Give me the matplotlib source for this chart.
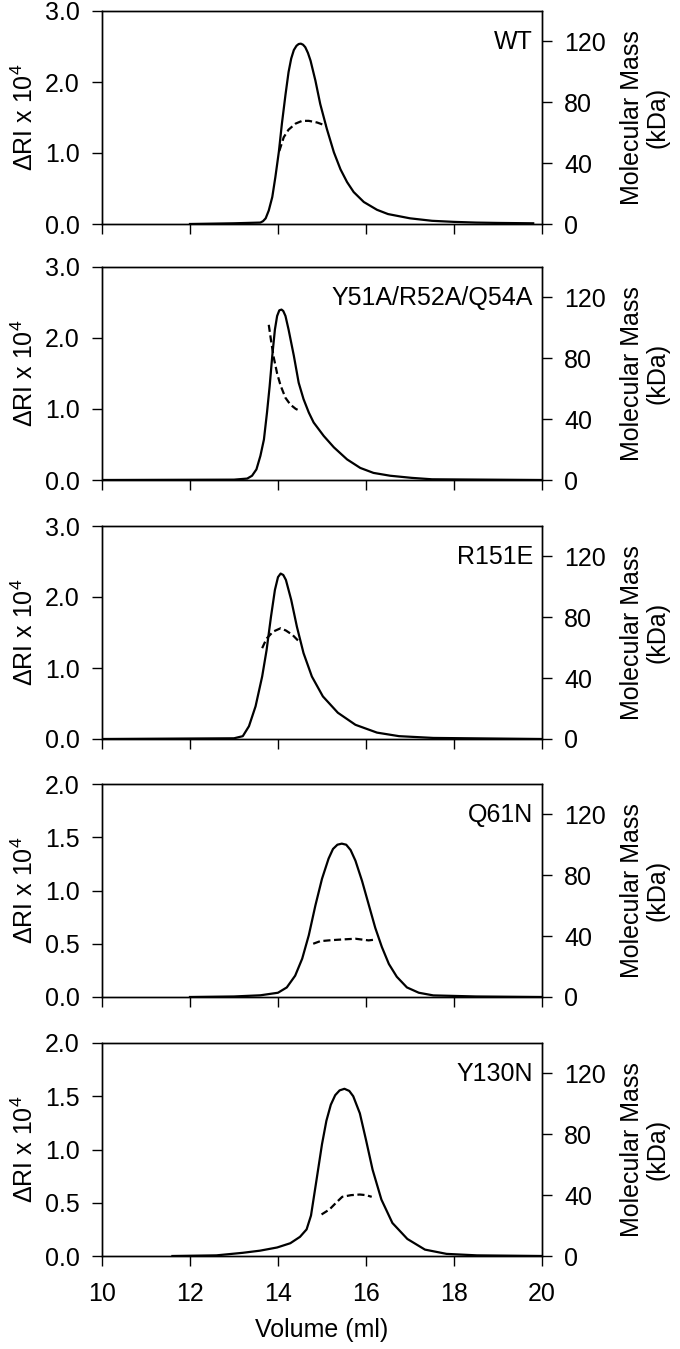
import numpy as np
import matplotlib
matplotlib.use("Agg")
import matplotlib.pyplot as plt

plt.rcParams['font.family'] = ['Liberation Sans', 'DejaVu Sans']
plt.rcParams['mathtext.default'] = 'regular'
plt.rcParams['font.size'] = 18

# Refractive index trace (x 10^4) and molar mass (kDa) vs elution volume (ml)
wt_v = [12.0, 13.0, 13.6, 13.66, 13.72, 13.79, 13.87, 13.94, 14.02, 14.09, 14.17, 14.24, 14.3,
        14.36, 14.42, 14.47, 14.52, 14.57, 14.62, 14.68, 14.74, 14.85, 14.96, 15.11, 15.27,
        15.42, 15.57, 15.72, 15.95, 16.25, 16.5, 17.0, 17.5, 18.0, 18.5, 19.0, 19.8]
wt_ri = [0.0, 0.01, 0.02, 0.04, 0.08, 0.19, 0.38, 0.66, 1.02, 1.42, 1.82, 2.14, 2.33,
         2.45, 2.51, 2.535, 2.54, 2.525, 2.49, 2.41, 2.30, 2.02, 1.69, 1.34, 1.01,
         0.77, 0.59, 0.45, 0.31, 0.20, 0.14, 0.08, 0.045, 0.03, 0.02, 0.015, 0.01]
wt_mv = [14.03, 14.13, 14.24, 14.4, 14.55, 14.7, 14.89, 15.1]
wt_mm = [48, 57, 62, 66, 67.8, 67.8, 66.7, 64.5]

mut_v = [10.0, 13.0, 13.3, 13.41, 13.51, 13.6, 13.68, 13.75, 13.81, 13.87, 13.93, 13.98, 14.03,
         14.08, 14.12, 14.17, 14.24, 14.36, 14.47, 14.58, 14.7, 14.81, 15.04, 15.27, 15.57,
         15.87, 16.17, 16.55, 17.04, 17.5, 20.0]
mut_ri = [0.0, 0.005, 0.02, 0.06, 0.15, 0.34, 0.57, 0.95, 1.32, 1.75, 2.12, 2.31, 2.39,
          2.40, 2.38, 2.31, 2.12, 1.75, 1.37, 1.14, 0.95, 0.81, 0.62, 0.46, 0.29,
          0.17, 0.10, 0.06, 0.03, 0.01, 0.0]
mut_mv = [13.79, 13.84, 13.9, 13.98, 14.06, 14.17, 14.28, 14.4, 14.51]
mut_mm = [102, 92, 81, 70, 62, 54, 49.6, 46.8, 45.2]

r151_v = [10.0, 13.0, 13.2, 13.34, 13.49, 13.64, 13.74, 13.84, 13.93, 14.0, 14.06, 14.12, 14.18,
          14.3, 14.43, 14.58, 14.77, 15.02, 15.36, 15.76, 16.25, 16.75, 17.53, 20.0]
r151_ri = [0.0, 0.01, 0.04, 0.18, 0.46, 0.88, 1.25, 1.72, 2.1, 2.28, 2.33, 2.31, 2.24,
           1.96, 1.58, 1.21, 0.88, 0.6, 0.37, 0.2, 0.09, 0.04, 0.015, 0.0]
r151_mv = [13.64, 13.74, 13.89, 14.06, 14.18, 14.33, 14.48]
r151_mm = [59.7, 66, 70.6, 72.8, 71.3, 68.4, 64]

q61_v = [12.0, 13.0, 13.6, 14.0, 14.2, 14.39, 14.55, 14.7, 14.85, 15.0, 15.15, 15.25, 15.35,
         15.45, 15.55, 15.65, 15.76, 15.91, 16.06, 16.21, 16.36, 16.52, 16.7, 16.93, 17.2,
         17.53, 18.5, 20.0]
q61_ri = [0.0, 0.005, 0.016, 0.04, 0.09, 0.2, 0.36, 0.58, 0.86, 1.11, 1.30, 1.39, 1.43,
          1.44, 1.43, 1.38, 1.28, 1.09, 0.87, 0.65, 0.47, 0.31, 0.19, 0.09, 0.04,
          0.015, 0.005, 0.0]
q61_mv = [14.8, 14.96, 15.15, 15.34, 15.57, 15.76, 15.95, 16.06, 16.17]
q61_mm = [35, 36.7, 37.2, 37.6, 38, 38.3, 37.6, 37.2, 37.6]

y130_v = [11.6, 12.6, 13.2, 13.59, 13.98, 14.28, 14.5, 14.65, 14.75, 14.87, 15.0, 15.1, 15.2,
          15.3, 15.4, 15.51, 15.62, 15.71, 15.86, 16.0, 16.15, 16.35, 16.6, 16.94, 17.34,
          17.83, 18.52, 20.0]
y130_ri = [0.0, 0.006, 0.03, 0.05, 0.08, 0.12, 0.18, 0.25, 0.38, 0.7, 1.05, 1.27, 1.42,
           1.51, 1.555, 1.57, 1.55, 1.50, 1.34, 1.09, 0.81, 0.53, 0.31, 0.16, 0.06,
           0.02, 0.006, 0.0]
y130_mv = [14.99, 15.17, 15.32, 15.46, 15.66, 15.86, 16.0, 16.13]
y130_mm = [27.3, 30.6, 35, 38.9, 40, 40.4, 40, 38.9]

names = ["WT", "Y51A/R52A/Q54A", "R151E", "Q61N", "Y130N"]
ri_max = [3.0, 3.0, 3.0, 2.0, 2.0]
traces = [(wt_v, wt_ri, wt_mv, wt_mm),
          (mut_v, mut_ri, mut_mv, mut_mm),
          (r151_v, r151_ri, r151_mv, r151_mm),
          (q61_v, q61_ri, q61_mv, q61_mm),
          (y130_v, y130_ri, y130_mv, y130_mm)]

W, H = 680, 1349
fig = plt.figure(figsize=(W / 100, H / 100), dpi=100)
tops = [11, 267, 526, 784, 1043]

for i, (name, ymax, (v, ri, mv, mm)) in enumerate(zip(names, ri_max, traces)):
    ax = fig.add_axes([102 / W, 1 - (tops[i] + 213) / H, 440 / W, 213 / H])
    ax2 = ax.twinx()

    ax.plot(v, ri, color='black', lw=1.6, zorder=3, solid_joinstyle='round')
    ax2.plot(mv, mm, color='black', lw=1.6, linestyle=(0, (3.2, 1.6)))

    ax.set_xlim(10, 20)
    ax.set_ylim(0, ymax)
    ax2.set_ylim(0, 140)
    ax.set_xticks(np.arange(10, 21, 2))
    if ymax == 3.0:
        ax.set_yticks([0, 1, 2, 3])
    else:
        ax.set_yticks([0, 0.5, 1.0, 1.5, 2.0])
    ax.yaxis.set_major_formatter(matplotlib.ticker.FormatStrFormatter('%.1f'))
    ax2.set_yticks([0, 40, 80, 120])

    for a in (ax, ax2):
        a.tick_params(direction='out', length=7, width=1.0, pad=9)
        for s in a.spines.values():
            s.set_linewidth(1.0)
    ax.tick_params(axis='x', pad=12)

    if i < 4:
        ax.tick_params(axis='x', labelbottom=False)
    else:
        ax.set_xlabel("Volume (ml)", labelpad=8)

    ax.set_ylabel(r"$\Delta$RI x 10$^4$", labelpad=5)
    ax2.set_ylabel("Molecular Mass\n(kDa)", labelpad=10, linespacing=1.1)
    ax.text(0.98, 0.855, name, transform=ax.transAxes, ha='right', va='center')

plt.savefig("out.png", dpi=100)
